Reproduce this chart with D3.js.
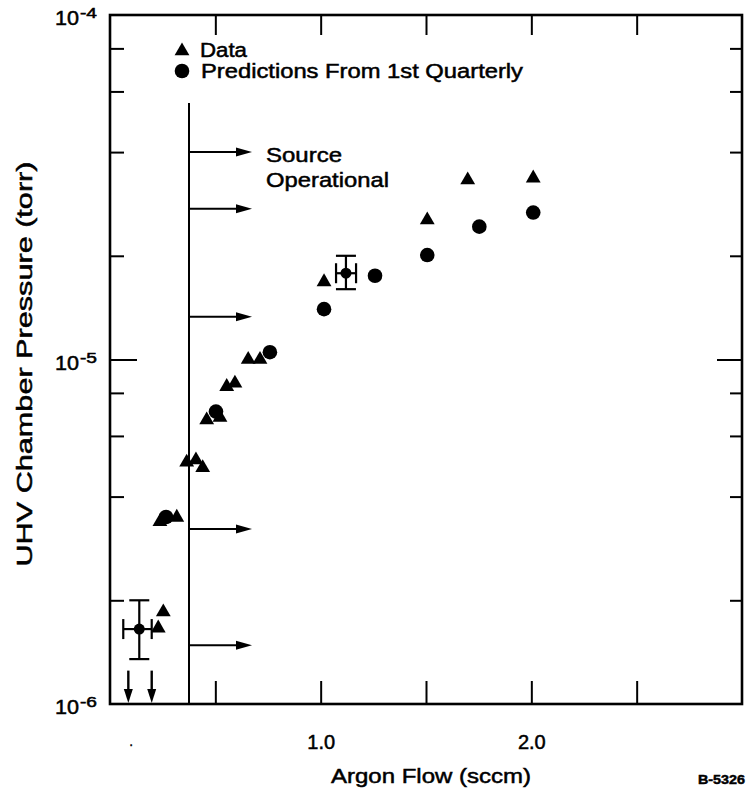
<!DOCTYPE html>
<html><head><meta charset="utf-8">
<script src="https://cdn.jsdelivr.net/npm/d3@7"></script>
<style>
body{margin:0;background:#fff}
text{font-family:"Liberation Sans",Arial,Helvetica,sans-serif;fill:#000;stroke:#000;stroke-width:0.5px}
</style>
</head><body>
<svg id="c" width="747" height="791"></svg>
<script>
// ---- data ----
const xTickValues = [0.5, 1.0, 1.5, 2.0, 2.5];
const xTickLabels = ["", "1.0", "", "2.0", ""];
const yMajor = [1e-6, 1e-5, 1e-4];
const yMajorExp = ["-6", "-5", "-4"];
const yMinor = [2e-6, 4e-6, 6e-6, 8e-6, 2e-5, 4e-5, 6e-5, 8e-5];

// measured data (triangles)
const dataX = [0.656, 0.712, 0.554, 0.593, 0.459, 0.522, 0.364, 0.408, 0.440, 0.237, 0.317, 0.253, 0.229, 1.016, 1.506, 1.698, 2.009];
const dataY = [1.0e-5, 1.0e-5, 8.34e-6, 8.53e-6, 6.67e-6, 6.79e-6, 5.03e-6, 5.11e-6, 4.85e-6, 3.38e-6, 3.48e-6, 1.85e-6, 1.66e-6, 1.68e-5, 2.54e-5, 3.32e-5, 3.36e-5];

// predictions (circles)
const predX = [0.759, 0.503, 0.266, 1.016, 1.258, 1.506, 1.753, 2.009];
const predY = [1.05e-5, 7.06e-6, 3.49e-6, 1.40e-5, 1.75e-5, 2.01e-5, 2.43e-5, 2.67e-5];

// points with error bars
const errX = [0.139, 1.120];
const errY = [1.65e-6, 1.78e-5];
const errXLo = [0.063, 1.073];
const errXHi = [0.198, 1.168];
const errYLo = [1.35e-6, 1.60e-5];
const errYHi = [2.0e-6, 2.0e-5];

// upper-limit arrows (below 1e-6)
const limitX = [0.087, 0.198];
const limitTop = 1.25e-6;

// source operational marker
const sourceX = 0.375;
const sourceTop = 5.55e-5;
const arrowLevels = [4.0e-5, 2.74e-5, 1.33e-5, 3.22e-6, 1.48e-6];
const arrowEndX = 0.674;

// ---- chart ----
const svg = d3.select("#c");
const L = 110, R = 742, T = 15, B = 704;
const x = d3.scaleLinear([0, 3], [L, R]);
const y = d3.scaleLog([1e-6, 1e-4], [B, T]);

// bottom axis ticks (inward) with labels
const gB = svg.append("g").attr("transform", `translate(0,${B})`)
  .call(d3.axisBottom(x).tickValues(xTickValues).tickSizeInner(-23).tickSizeOuter(0)
    .tickPadding(31).tickFormat((d, i) => xTickLabels[i]));
gB.select(".domain").remove();
gB.selectAll(".tick line").attr("stroke", "#000").attr("stroke-width", 2);
gB.selectAll(".tick text").attr("font-size", 20).attr("font-family", null);

// top axis ticks
const gT = svg.append("g").attr("transform", `translate(0,${T})`)
  .call(d3.axisTop(x).tickValues(xTickValues).tickSizeInner(-20).tickSizeOuter(0).tickFormat(""));
gT.select(".domain").remove();
gT.selectAll(".tick line").attr("stroke", "#000").attr("stroke-width", 2);

// left axis
function yTicks(g, vals, size) {
  g.call(d3.axisLeft(y).tickValues(vals).tickSizeInner(size).tickSizeOuter(0).tickFormat(""));
  g.select(".domain").remove();
  g.selectAll(".tick line").attr("stroke", "#000").attr("stroke-width", 2);
}
yTicks(svg.append("g").attr("transform", `translate(${L},0)`), yMinor, -14);
yTicks(svg.append("g").attr("transform", `translate(${L},0)`), [1e-5], -27);
function yTicksR(g, vals, size) {
  g.call(d3.axisRight(y).tickValues(vals).tickSizeInner(size).tickSizeOuter(0).tickFormat(""));
  g.select(".domain").remove();
  g.selectAll(".tick line").attr("stroke", "#000").attr("stroke-width", 2);
}
yTicksR(svg.append("g").attr("transform", `translate(${R},0)`), yMinor, -12);
yTicksR(svg.append("g").attr("transform", `translate(${R},0)`), [1e-5], -25);

// frame
svg.append("rect").attr("x", L).attr("y", T).attr("width", R - L).attr("height", B - T)
  .attr("fill", "none").attr("stroke", "#000").attr("stroke-width", 2.6);

// y major labels 10^n
yMajor.forEach((v, i) => {
  const yy = y(v);
  svg.append("text").attr("x", 79).attr("y", yy + 10).attr("text-anchor", "end")
    .attr("font-size", 20).attr("textLength", 24).attr("lengthAdjust", "spacingAndGlyphs").text("10");
  svg.append("text").attr("x", 80).attr("y", yy + 3).attr("font-size", 14)
    .attr("textLength", 17).attr("lengthAdjust", "spacingAndGlyphs").text(yMajorExp[i]);
});

// stray dot under axis
svg.append("text").attr("x", x(0.1)).attr("y", 746).attr("font-size", 12).attr("text-anchor", "middle").text(".");

// axis titles
svg.append("text").attr("x", 431).attr("y", 783).attr("text-anchor", "middle")
  .attr("font-size", 21).attr("textLength", 200).attr("lengthAdjust", "spacingAndGlyphs").text("Argon Flow (sccm)");
svg.append("text").attr("transform", "translate(32,364) rotate(-90)").attr("text-anchor", "middle")
  .attr("font-size", 22).attr("textLength", 405).attr("lengthAdjust", "spacingAndGlyphs").text("UHV Chamber Pressure (torr)");
svg.append("text").attr("x", 745).attr("y", 784).attr("text-anchor", "end")
  .attr("font-size", 13).attr("font-weight", "bold").attr("textLength", 47).attr("lengthAdjust", "spacingAndGlyphs").text("B-5326");

// source operational line and arrows
svg.append("line").attr("x1", x(sourceX)).attr("x2", x(sourceX)).attr("y1", y(sourceTop)).attr("y2", B)
  .attr("stroke", "#000").attr("stroke-width", 2);
arrowLevels.forEach(v => {
  const yy = y(v), x0 = x(sourceX), x1 = x(arrowEndX);
  svg.append("line").attr("x1", x0).attr("x2", x1 - 12).attr("y1", yy).attr("y2", yy)
    .attr("stroke", "#000").attr("stroke-width", 2);
  svg.append("path").attr("d", `M${x1},${yy} L${x1 - 16},${yy - 4.5} L${x1 - 16},${yy + 4.5} Z`).attr("fill", "#000");
});
svg.append("text").attr("x", 266).attr("y", 162).attr("font-size", 21)
  .attr("textLength", 76).attr("lengthAdjust", "spacingAndGlyphs").text("Source");
svg.append("text").attr("x", 266).attr("y", 187).attr("font-size", 21)
  .attr("textLength", 123).attr("lengthAdjust", "spacingAndGlyphs").text("Operational");

// upper limit arrows
limitX.forEach(v => {
  const xx = x(v), y0 = y(limitTop), y1 = B - 1;
  svg.append("line").attr("x1", xx).attr("x2", xx).attr("y1", y0).attr("y2", y1 - 10)
    .attr("stroke", "#000").attr("stroke-width", 2.4);
  svg.append("path").attr("d", `M${xx},${y1} L${xx - 4.5},${y1 - 14} L${xx + 4.5},${y1 - 14} Z`).attr("fill", "#000");
});

// error bars
const capY = 10, capX = 10;
errX.forEach((v, i) => {
  const g = svg.append("g").attr("stroke", "#000").attr("stroke-width", 2.2);
  const cx = x(v), cy = y(errY[i]);
  g.append("line").attr("x1", cx).attr("x2", cx).attr("y1", y(errYHi[i])).attr("y2", y(errYLo[i]));
  g.append("line").attr("x1", cx - capY).attr("x2", cx + capY).attr("y1", y(errYHi[i])).attr("y2", y(errYHi[i]));
  g.append("line").attr("x1", cx - capY).attr("x2", cx + capY).attr("y1", y(errYLo[i])).attr("y2", y(errYLo[i]));
  g.append("line").attr("x1", x(errXLo[i])).attr("x2", x(errXHi[i])).attr("y1", cy).attr("y2", cy);
  g.append("line").attr("x1", x(errXLo[i])).attr("x2", x(errXLo[i])).attr("y1", cy - capX).attr("y2", cy + capX);
  g.append("line").attr("x1", x(errXHi[i])).attr("x2", x(errXHi[i])).attr("y1", cy - capX).attr("y2", cy + capX);
  svg.append("circle").attr("cx", cx).attr("cy", cy).attr("r", 5.5).attr("fill", "#000");
});

// markers
const tri = d3.symbol(d3.symbolTriangle, 95);
svg.append("g").selectAll("path").data(dataX).join("path")
  .attr("d", tri).attr("transform", (d, i) => `translate(${x(d)},${y(dataY[i])})`).attr("fill", "#000");
svg.append("g").selectAll("circle").data(predX).join("circle")
  .attr("cx", d => x(d)).attr("cy", (d, i) => y(predY[i])).attr("r", 7.3).attr("fill", "#000");

// legend
svg.append("path").attr("d", tri).attr("transform", "translate(182,51)").attr("fill", "#000");
svg.append("circle").attr("cx", 182).attr("cy", 71).attr("r", 7.3).attr("fill", "#000");
svg.append("text").attr("x", 200).attr("y", 57).attr("font-size", 20)
  .attr("textLength", 47).attr("lengthAdjust", "spacingAndGlyphs").text("Data");
svg.append("text").attr("x", 201).attr("y", 78).attr("font-size", 20)
  .attr("textLength", 322).attr("lengthAdjust", "spacingAndGlyphs").text("Predictions From 1st Quarterly");
</script>
</body></html>
